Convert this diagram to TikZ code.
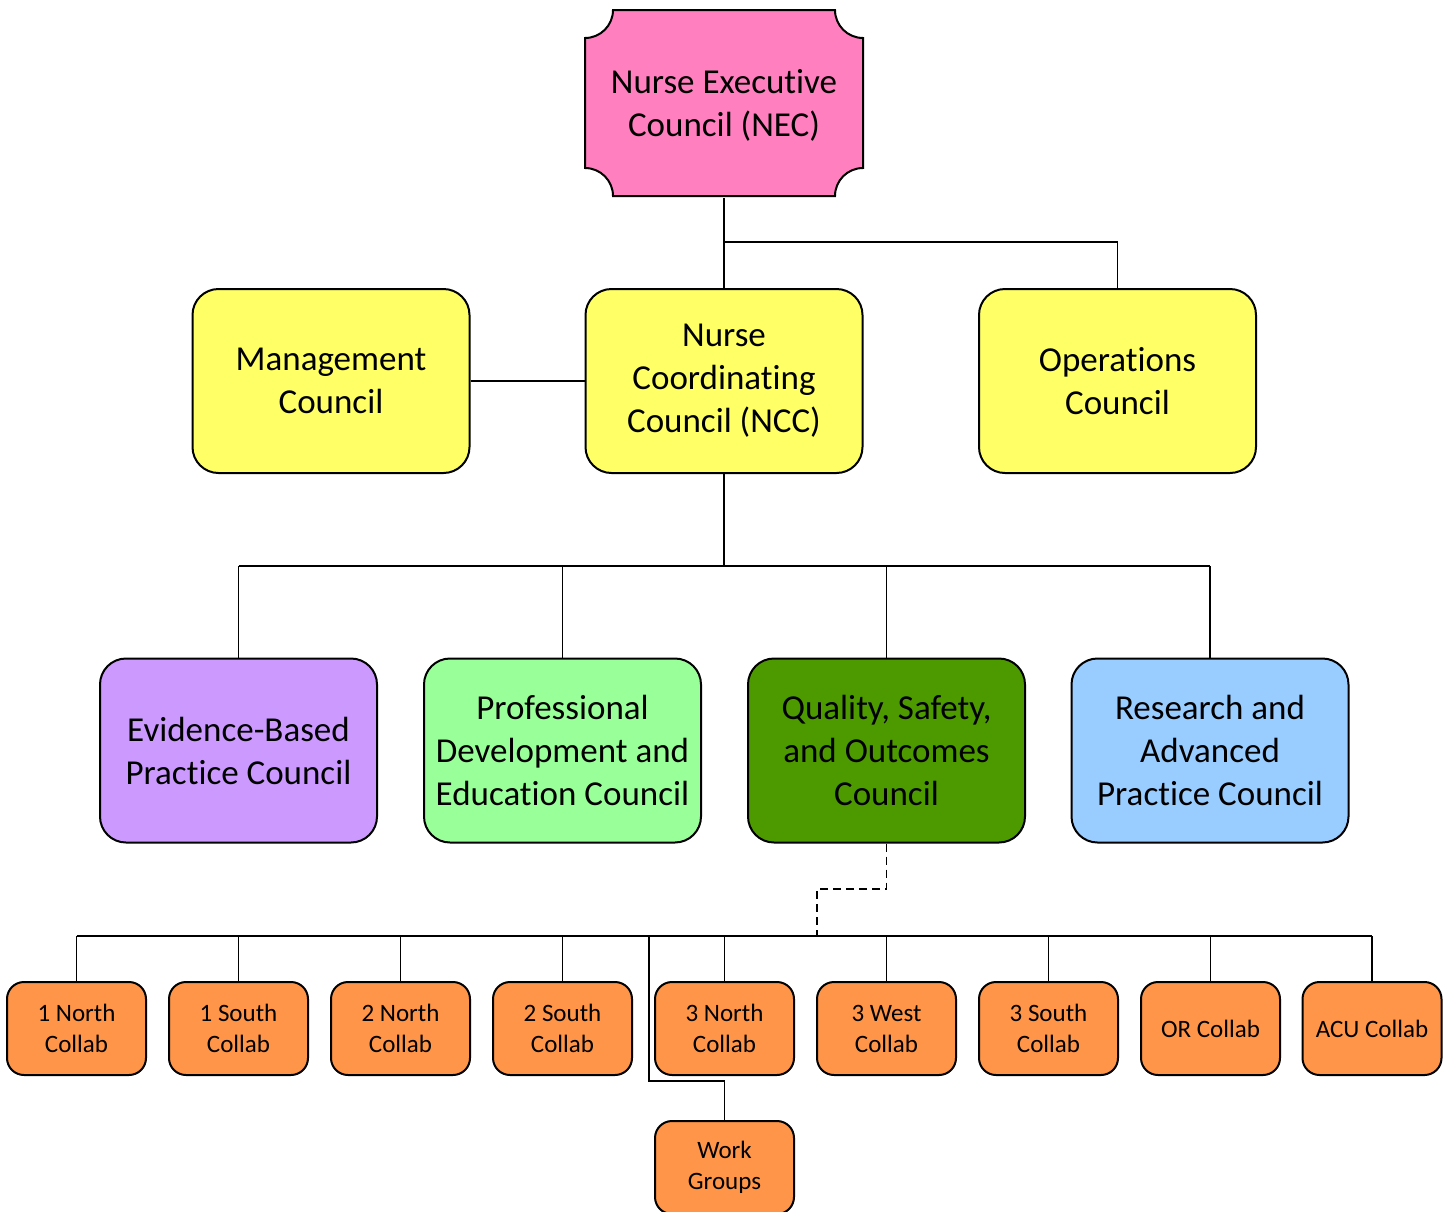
\documentclass[tikz,border=0pt]{standalone}
\usepackage{fontspec}
\setmainfont{Carlito}[Ligatures={NoCommon}]
\definecolor{pinkc}{HTML}{FF7FBF}
\definecolor{yellowc}{HTML}{FFFF66}
\definecolor{purplec}{HTML}{CC99FF}
\definecolor{lgreenc}{HTML}{99FF99}
\definecolor{dgreenc}{HTML}{4C9900}
\definecolor{lbluec}{HTML}{99CCFF}
\definecolor{orangec}{HTML}{FF9548}
\begin{document}
\begin{tikzpicture}[x=1pt,y=-1pt,
  bigbox/.style={draw, line width=2pt, rounded corners=26pt, minimum width=277pt, minimum height=184pt, align=center, inner sep=0pt, font=\fontsize{35}{43}\selectfont},
  smallbox/.style={draw, line width=2pt, rounded corners=17pt, minimum width=139pt, minimum height=93pt, align=center, inner sep=0pt, fill=orangec, font=\fontsize{25}{31}\selectfont},
  conn/.style={line width=1.9pt},
  dconn/.style={line width=1.9pt, dash pattern=on 8pt off 5pt}]
\useasboundingbox (0,0) rectangle (1445,1211);
\clip (0,0) rectangle (1445,1211);
% NEC plaque shape
\def\rr{28}
\filldraw[fill=pinkc, line width=2pt]
  (585+\rr,10) -- (863-\rr,10) arc[start angle=180, end angle=90, radius=\rr]
  -- (863,196-\rr) arc[start angle=270, end angle=180, radius=\rr]
  -- (585+\rr,196) arc[start angle=0, end angle=-90, radius=\rr]
  -- (585,10+\rr) arc[start angle=90, end angle=0, radius=\rr] -- cycle;
\node[minimum width=278pt, minimum height=186pt, inner sep=0pt, align=center, font=\fontsize{35}{43}\selectfont] (nec) at (724,105) {Nurse Executive\\Council (NEC)};
% row 2
\node[bigbox, fill=yellowc] (mgmt) at (331,381) {Management\\Council};
\node[bigbox, fill=yellowc] (ncc) at (724,381) {Nurse\\Coordinating\\Council (NCC)};
\node[bigbox, fill=yellowc] (ops) at (1117.5,381) {Operations\\Council};
% row 3
\node[bigbox, fill=purplec] (ebp) at (238.5,750.5) {Evidence-Based\\Practice Council};
\node[bigbox, fill=lgreenc] (pde) at (562.5,750.5) {Professional\\Development and\\Education Council};
\node[bigbox, fill=dgreenc] (qso) at (886.5,750.5) {Quality, Safety,\\and Outcomes\\Council};
\node[bigbox, fill=lbluec] (rap) at (1210,750.5) {Research and\\Advanced\\Practice Council};
% row 4
\node[smallbox] (n1) at (76.5,1028.5) {1 North\\Collab};
\node[smallbox] (s1) at (238.5,1028.5) {1 South\\Collab};
\node[smallbox] (n2) at (400.5,1028.5) {2 North\\Collab};
\node[smallbox] (s2) at (562.5,1028.5) {2 South\\Collab};
\node[smallbox] (n3) at (724.5,1028.5) {3 North\\Collab};
\node[smallbox] (w3) at (886.5,1028.5) {3 West\\Collab};
\node[smallbox] (s3) at (1048.5,1028.5) {3 South\\Collab};
\node[smallbox] (orc) at (1210.5,1028.5) {OR Collab};
\node[smallbox] (acu) at (1372,1028.5) {ACU Collab};
\node[smallbox] (wg) at (724.5,1167.5) {Work\\Groups};
% connectors
\coordinate (j1) at (724,242);
\coordinate (bus3) at (724,566);
\coordinate (bus4) at (724,936);
\coordinate (dk) at (817,889);
\coordinate (wgk) at (649,1081);
\draw[conn] (nec.south) -- (ncc.north);
\draw[conn] (j1) -| (ops.north);
\draw[conn] (mgmt.east) -- (ncc.west);
\draw[conn] (ncc.south) -- (bus3);
\draw[conn] (ebp.north |- bus3) -- (rap.north |- bus3);
\foreach \n in {ebp,pde,qso,rap} \draw[conn] (\n.north) -- (\n.north |- bus3);
\draw[dconn] (qso.south) |- (dk) -- (dk |- bus4);
\draw[conn] (n1.north |- bus4) -- (acu.north |- bus4);
\foreach \n in {n1,s1,n2,s2,n3,w3,s3,orc,acu} \draw[conn] (\n.north) -- (\n.north |- bus4);
\draw[conn] (wgk |- bus4) -- (wgk) -| (wg.north);
\end{tikzpicture}
\end{document}
